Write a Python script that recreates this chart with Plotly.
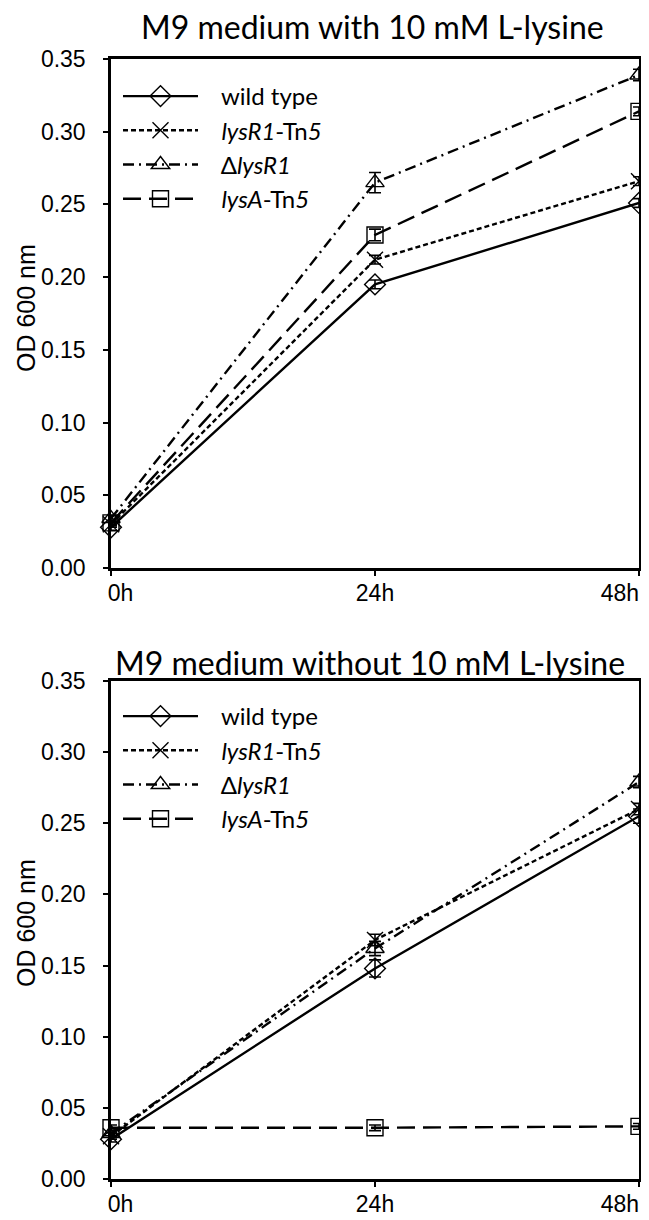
import plotly.graph_objects as go

times = [0, 24, 48]
time_labels = ["\u00a0\u00a0\u00a00h", "24h", "48h" + "\u00a0" * 6]
y_ticks = [0.00, 0.05, 0.10, 0.15, 0.20, 0.25, 0.30, 0.35]
pad = "\u00a0" * 3
strains = [pad + "wild type", pad + "<i>lysR1</i>-Tn<i>5</i>", pad + "Δ<i>lysR1</i>", pad + "<i>lysA</i>-Tn<i>5</i>"]

# With 10 mM L-lysine
with_wt = [0.028, 0.195, 0.251]
with_lysR1_tn5 = [0.030, 0.212, 0.266]
with_dlysR1 = [0.034, 0.265, 0.339]
with_lysA_tn5 = [0.031, 0.229, 0.314]
with_wt_err = [0.002, 0.003, 0.003]
with_lysR1_tn5_err = [0.002, 0.003, 0.003]
with_dlysR1_err = [0.002, 0.007, 0.004]
with_lysA_tn5_err = [0.002, 0.004, 0.003]

# Without 10 mM L-lysine
wo_wt = [0.028, 0.148, 0.255]
wo_lysR1_tn5 = [0.030, 0.168, 0.260]
wo_dlysR1 = [0.032, 0.162, 0.279]
wo_lysA_tn5 = [0.036, 0.036, 0.037]
wo_wt_err = [0.002, 0.006, 0.005]
wo_lysR1_tn5_err = [0.002, 0.004, 0.004]
wo_dlysR1_err = [0.002, 0.005, 0.004]
wo_lysA_tn5_err = [0.002, 0.002, 0.002]

dashes = ["solid", "5px,3px", "11px,5px,2px,5px", "18px,8px"]
symbols = ["diamond-open", "x-thin-open", "triangle-up-open", "square-open"]

fig = go.Figure()

panels = [
    ([with_wt, with_lysR1_tn5, with_dlysR1, with_lysA_tn5],
     [with_wt_err, with_lysR1_tn5_err, with_dlysR1_err, with_lysA_tn5_err], "x", "y", "legend"),
    ([wo_wt, wo_lysR1_tn5, wo_dlysR1, wo_lysA_tn5],
     [wo_wt_err, wo_lysR1_tn5_err, wo_dlysR1_err, wo_lysA_tn5_err], "x2", "y2", "legend2"),
]

for series, errs, xa, ya, lg in panels:
    for name, vals, err, dash, sym in zip(strains, series, errs, dashes, symbols):
        fig.add_trace(go.Scatter(
            x=times, y=vals, name=name, mode="lines+markers",
            xaxis=xa, yaxis=ya, legend=lg, cliponaxis=False,
            line=dict(color="black", width=2.4, dash=dash),
            marker=dict(symbol=sym, size=16, color="black",
                        line=dict(color="black", width=1.4)),
            error_y=dict(type="data", array=err, visible=True,
                         color="black", thickness=1.6, width=6),
        ))

tickfont = dict(family="Liberation Sans, Arial", size=23, color="black")
xdom = [103 / 649, 631 / 649]
axcommon_x = dict(range=[0, 48], tickvals=times, ticktext=time_labels, ticks="outside",
                  ticklen=5, tickwidth=2, tickcolor="black", showline=True, linewidth=2.5,
                  linecolor="black", mirror=True, showgrid=False, zeroline=False,
                  tickfont=tickfont, automargin=False, domain=xdom, ticklabelstandoff=-2,
                  ticklabeloverflow="allow")
axcommon_y = dict(range=[0, 0.35], tickvals=y_ticks, tickformat=".2f", ticks="outside",
                  ticklen=5, tickwidth=2, tickcolor="black", showline=True, linewidth=2.5,
                  linecolor="black", mirror=True, showgrid=False, zeroline=False,
                  tickfont=tickfont, automargin=False, ticklabelstandoff=13)

legfont = dict(family="Lato, Open Sans", size=24, color="black")
fig.update_layout(
    width=649, height=1220, margin=dict(l=0, r=0, t=0, b=0),
    paper_bgcolor="white", plot_bgcolor="white", showlegend=True,
    xaxis=dict(axcommon_x, anchor="y"),
    yaxis=dict(axcommon_y, domain=[(1220 - 560) / 1220, (1220 - 51) / 1220], anchor="x"),
    xaxis2=dict(axcommon_x, anchor="y2"),
    yaxis2=dict(axcommon_y, domain=[(1220 - 1171) / 1220, (1220 - 673) / 1220], anchor="x2"),
    legend=dict(x=110 / 649, y=1 - 66 / 1220, xanchor="left", yanchor="top",
                bgcolor="rgba(0,0,0,0)", font=legfont, tracegroupgap=0, itemwidth=75),
    legend2=dict(x=110 / 649, y=1 - 686 / 1220, xanchor="left", yanchor="top",
                 bgcolor="rgba(0,0,0,0)", font=legfont, tracegroupgap=0, itemwidth=75),
    annotations=[
        dict(text="M9 medium with 10 mM L-lysine", x=364 / 649, y=1 - 18 / 1220,
             xref="paper", yref="paper", showarrow=False, xanchor="center", yanchor="middle",
             font=dict(family="Lato, Open Sans", size=32, color="black")),
        dict(text="M9 medium without 10 mM L-lysine", x=362 / 649, y=1 - 654 / 1220,
             xref="paper", yref="paper", showarrow=False, xanchor="center", yanchor="middle",
             font=dict(family="Lato, Open Sans", size=32, color="black")),
        dict(text="OD 600 nm", x=18 / 649, y=1 - 300 / 1220, textangle=-90,
             xref="paper", yref="paper", showarrow=False, xanchor="center", yanchor="middle",
             font=dict(family="Liberation Sans, Arial", size=25, color="black")),
        dict(text="OD 600 nm", x=18 / 649, y=1 - 915 / 1220, textangle=-90,
             xref="paper", yref="paper", showarrow=False, xanchor="center", yanchor="middle",
             font=dict(family="Liberation Sans, Arial", size=25, color="black")),
    ],
)

fig.write_html("out.html")
